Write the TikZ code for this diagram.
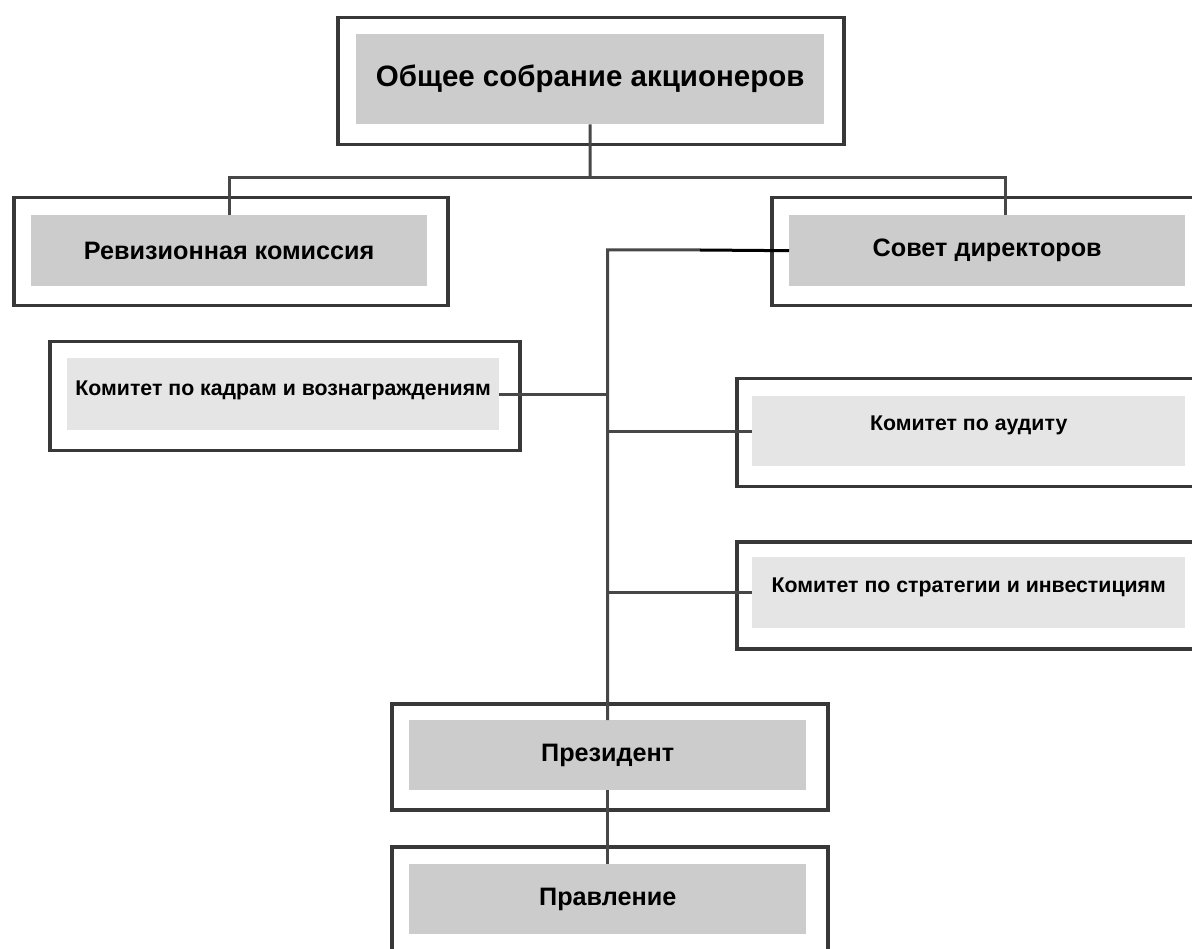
\documentclass[tikz,border=0pt]{standalone}
\usepackage{fontspec}
\setmainfont{Liberation Sans}
\begin{document}
\begin{tikzpicture}[x=1pt,y=-1pt,
  outerbox/.style={draw=black!78,line width=3.5pt,inner sep=0pt,anchor=north west},
  innerbox/.style={inner sep=0pt,anchor=north west,text=black!90},
  mainfill/.style={fill=black!20},
  comfill/.style={fill=black!10},
  conn/.style={draw=black!72,line width=3pt},
  bigfont/.style={font=\fontsize{29.5}{32}\selectfont\bfseries},
  midfont/.style={font=\fontsize{25.2}{29}\selectfont\bfseries},
  smallfont/.style={font=\fontsize{21.3}{24}\selectfont\bfseries}]
\clip (0,0) rectangle (1192,949);
\fill[white] (0,0) rectangle (1192,949);
% outer boxes
\node[outerbox,minimum width=506pt,minimum height=127pt] (topout) at (336,16) {};
\node[outerbox,minimum width=434pt,minimum height=108pt] (revout) at (12,196) {};
\node[outerbox,minimum width=440pt,minimum height=108pt] (sovout) at (770,196) {};
\node[outerbox,minimum width=470pt,minimum height=109pt] (kadout) at (48,340) {};
\node[outerbox,minimum width=470pt,minimum height=108pt] (audout) at (735,377) {};
\node[outerbox,minimum width=470pt,minimum height=107pt] (strout) at (735,540) {};
\node[outerbox,minimum width=436pt,minimum height=106pt] (presout) at (390,702) {};
\node[outerbox,minimum width=436pt,minimum height=120pt] (pravout) at (390,845) {};
% inner boxes
\node[innerbox,mainfill,minimum width=468pt,minimum height=90pt] (topin) at (356,34) {};
\node[bigfont] at (topin.center) {Общее собрание акционеров};
\node[innerbox,mainfill,minimum width=396pt,minimum height=71pt] (revin) at (31,215) {};
\node[midfont] at (revin.center) {Ревизионная комиссия};
\node[innerbox,mainfill,minimum width=396pt,minimum height=71pt] (sovin) at (789,215) {};
\node[midfont] at (sovin.center) {Совет директоров};
\node[innerbox,comfill,minimum width=432pt,minimum height=72pt] (kadin) at (67,358) {};
\node[smallfont] at ([yshift=4pt]kadin.center) {Комитет по кадрам и вознаграждениям};
\node[innerbox,comfill,minimum width=433pt,minimum height=70pt] (audin) at (752,396) {};
\node[smallfont] at ([yshift=6pt]audin.center) {Комитет по аудиту};
\node[innerbox,comfill,minimum width=433pt,minimum height=71pt] (strin) at (752,557) {};
\node[smallfont] at ([yshift=5pt]strin.center) {Комитет по стратегии и инвестициям};
\node[innerbox,mainfill,minimum width=397pt,minimum height=70pt] (presin) at (409,720) {};
\node[midfont] at (presin.center) {Президент};
\node[innerbox,mainfill,minimum width=397pt,minimum height=70pt] (pravin) at (409,864) {};
\node[midfont] at (pravin.center) {Правление};
% connectors
\coordinate (bus) at (590,178);
\coordinate (sovtap) at (1005,215);
\coordinate (trunktop) at (607.5,250);
\coordinate (blackstart) at (700,250);
\draw[conn] (topin.south) -- (bus);
\draw[conn] (revin.north) |- (bus) -| (sovtap);
\draw[conn] (presin.north) -- (trunktop) -- (blackstart);
\draw[line width=3pt,black] (blackstart) -- (sovin.west);
\draw[conn] (kadin.east) -- (kadin.east -| trunktop);
\draw[conn] (audin.west) -- (audin.west -| trunktop);
\draw[conn] (strin.west) -- (strin.west -| trunktop);
\draw[conn] (presin.south) -- (pravin.north);
\end{tikzpicture}
\end{document}
